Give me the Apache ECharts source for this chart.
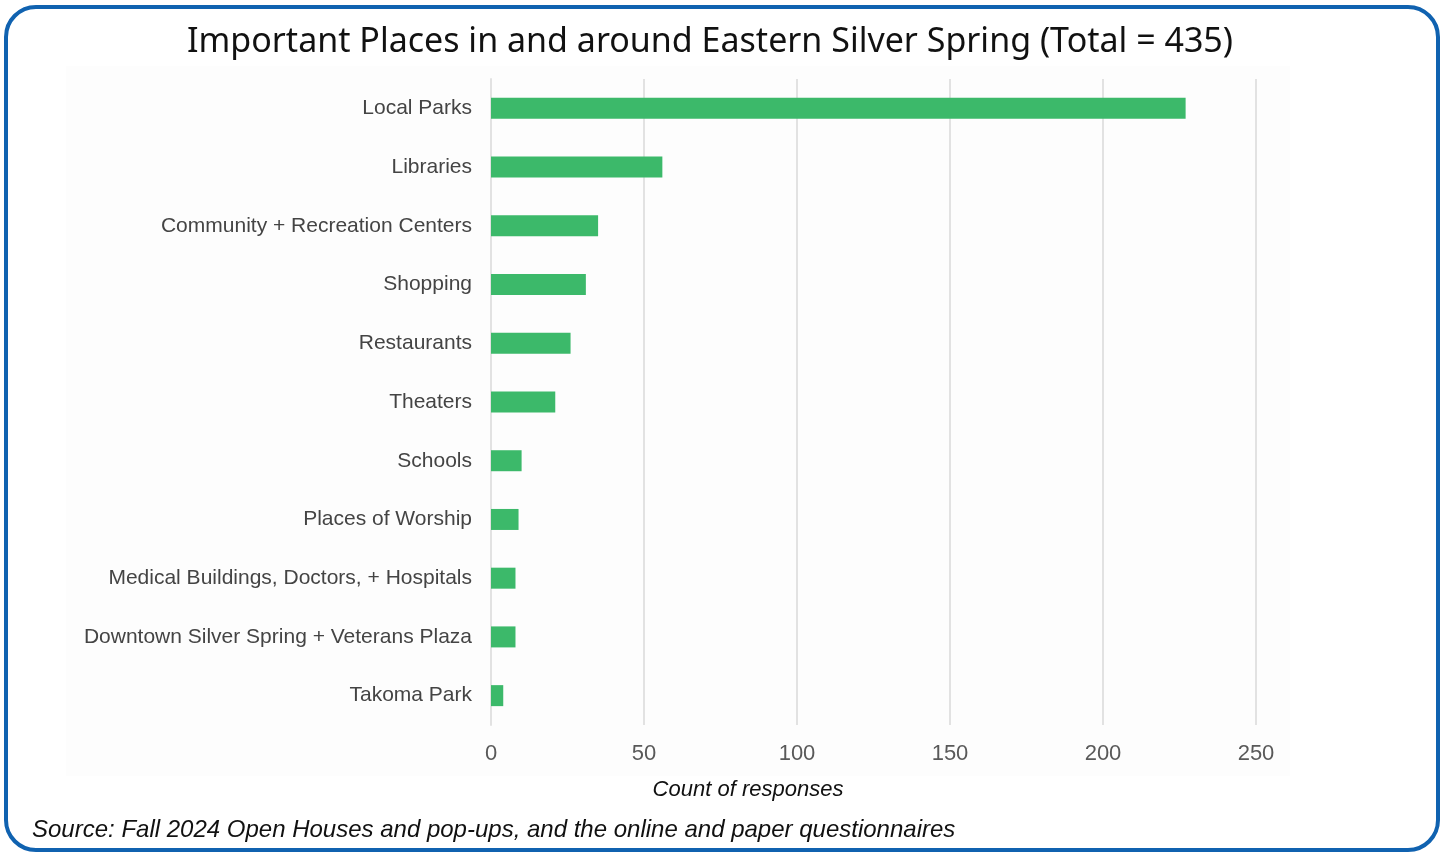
<!DOCTYPE html>
<html>
<head>
<meta charset="utf-8">
<title>Important Places in and around Eastern Silver Spring</title>
<script src="https://cdn.jsdelivr.net/npm/echarts@6/dist/echarts.min.js"></script>
<style>
  html, body { margin: 0; padding: 0; background: #fff; }
  #chart { width: 1442px; height: 852px; }
</style>
</head>
<body>
<div id="chart"></div>
<script>
  // data (top to bottom)
  var places = [
    'Local Parks',
    'Libraries',
    'Community + Recreation Centers',
    'Shopping',
    'Restaurants',
    'Theaters',
    'Schools',
    'Places of Worship',
    'Medical Buildings, Doctors, + Hospitals',
    'Downtown Silver Spring + Veterans Plaza',
    'Takoma Park'
  ]
  var counts = [227, 56, 35, 31, 26, 21, 10, 9, 8, 8, 4]
  var xTicks = [0, 50, 100, 150, 200, 250]

  var chart = echarts.init(document.getElementById('chart'))

  var option = {
    backgroundColor: '#ffffff',
    animation: false,
    graphic: [
      {
        type: 'rect',
        z: -1,
        shape: { x: 66, y: 66, width: 1224, height: 710 },
        style: { fill: '#fdfdfd' }
      },
      {
        type: 'rect',
        shape: { x: 6, y: 7, width: 1432, height: 843, r: 30 },
        style: { fill: 'none', stroke: '#1062b0', lineWidth: 4 }
      },
      {
        type: 'text',
        x: 710,
        y: 42,
        style: {
          text: 'Important Places in and around Eastern Silver Spring (Total = 435)',
          fontFamily: 'Noto Sans',
          fontSize: 34,
          fill: '#111',
          align: 'center',
          verticalAlign: 'middle'
        }
      },
      {
        type: 'text',
        x: 748,
        y: 790,
        style: {
          text: 'Count of responses',
          fontFamily: 'Liberation Sans',
          fontStyle: 'italic',
          fontSize: 22,
          fill: '#111',
          align: 'center',
          verticalAlign: 'middle'
        }
      },
      {
        type: 'text',
        x: 32,
        y: 830,
        style: {
          text: 'Source: Fall 2024 Open Houses and pop-ups, and the online and paper questionnaires',
          fontFamily: 'Liberation Sans',
          fontStyle: 'italic',
          fontSize: 24,
          fill: '#111',
          align: 'left',
          verticalAlign: 'middle'
        }
      }
    ],
    grid: {
      left: 491,
      right: 186,
      top: 79,
      bottom: 127
    },
    xAxis: {
      type: 'value',
      min: xTicks[0],
      max: xTicks[xTicks.length - 1],
      interval: 50,
      axisLine: { show: false },
      axisTick: { show: false },
      axisLabel: {
        margin: 18,
        fontFamily: 'Liberation Sans',
        fontSize: 22,
        color: '#595959'
      },
      splitLine: { lineStyle: { color: '#e2e2e2', width: 2 } }
    },
    yAxis: {
      type: 'category',
      inverse: true,
      data: places,
      axisLine: { show: true, lineStyle: { color: '#e2e2e2', width: 2 } },
      axisTick: { show: false },
      axisLabel: {
        margin: 19,
        fontFamily: 'Liberation Sans',
        fontSize: 21,
        color: '#444'
      }
    },
    series: [
      {
        name: 'Count of responses',
        type: 'bar',
        data: counts,
        barWidth: 21,
        itemStyle: { color: '#3cb96a' }
      }
    ]
  }

  chart.setOption(option)
</script>
</body>
</html>
